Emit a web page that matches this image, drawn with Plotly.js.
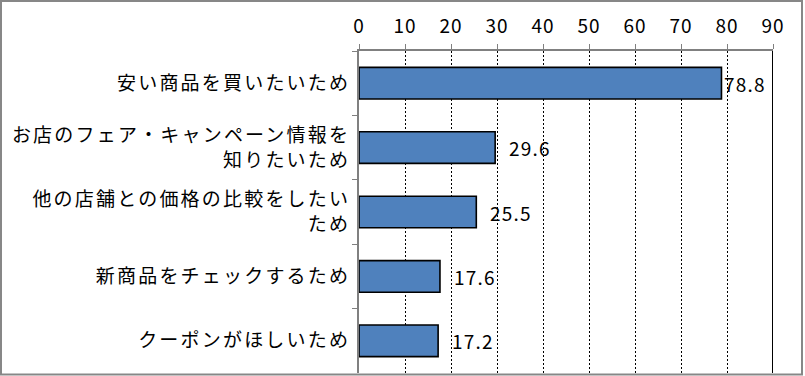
<!DOCTYPE html>
<html><head><meta charset="utf-8">
<script src="https://cdn.plot.ly/plotly-3.0.1.min.js"></script>
<style>html,body{margin:0;padding:0;background:#fff}#c{width:805px;height:376px}
.ytick text{letter-spacing:2.2px}
.xtick text{letter-spacing:1px}
.annotation-text{letter-spacing:1.2px}
</style>
</head><body><div id="c"></div>
<script>
const categories = [
  "安い商品を買いたいため",
  "お店のフェア・キャンペーン情報を<br>知りたいため",
  "他の店舗との価格の比較をしたい<br>ため",
  "新商品をチェックするため",
  "クーポンがほしいため"
];
const values = [78.8, 29.6, 25.5, 17.6, 17.2];
const labels = ["78.8", "29.6", "25.5", "17.6", "17.2"];
const tickVals = [0,10,20,30,40,50,60,70,80,90];

const W = 805, H = 376;
const m = {l: 359, r: 32, t: 51, b: 3};
const pw = W - m.l - m.r, ph = H - m.t - m.b;
const font = "'Noto Sans CJK JP', 'Noto Sans', sans-serif";
const shifts = [1, 12, 12, 12, 12];

const trace = {
  type: 'bar', orientation: 'h',
  y: categories, x: values,
  marker: {color: '#4F81BD', line: {color: '#000', width: 1.6}},
  width: 0.49,
  hoverinfo: 'none'
};

const annotations = values.map((v, i) => ({
  x: v, y: categories[i], xref: 'x', yref: 'y',
  text: labels[i], showarrow: false, xanchor: 'left', yanchor: 'middle',
  xshift: shifts[i], font: {family: font, size: 19, color: '#000'}
}));

const layout = {
  width: W, height: H,
  margin: m,
  paper_bgcolor: '#fff', plot_bgcolor: '#fff',
  showlegend: false,
  bargap: 0.5,
  xaxis: {
    side: 'top', range: [0, 90], tickvals: tickVals, ticktext: tickVals.map(String),
    showline: true, linecolor: '#808080', linewidth: 2,
    ticks: 'outside', ticklen: 5, tickcolor: '#808080', tickwidth: 1,
    showgrid: true, gridcolor: '#000', gridwidth: 1, griddash: '2px,2px',
    zeroline: false, ticklabelstandoff: 3,
    tickfont: {family: font, size: 19, color: '#000'}, fixedrange: true
  },
  yaxis: {
    autorange: 'reversed', type: 'category',
    showline: true, linecolor: '#808080', linewidth: 2,
    ticks: 'outside', ticklen: 5, tickcolor: '#808080', tickson: 'boundaries',
    showgrid: false, zeroline: false, ticklabelstandoff: 3,
    tickfont: {family: font, size: 19, color: '#000'}, fixedrange: true
  },
  annotations: annotations,
  shapes: [
    {type: 'line', xref: 'x', yref: 'paper', x0: 90, x1: 90, y0: 0, y1: 1,
     line: {color: '#000', width: 2}},
    {type: 'rect', xref: 'paper', yref: 'paper',
     x0: (1 - m.l) / pw, x1: (802 - m.l) / pw,
     y0: 1 - (374.5 - m.t) / ph, y1: 1 - (1 - m.t) / ph,
     line: {color: '#878787', width: 2}, fillcolor: 'rgba(0,0,0,0)'}
  ]
};

Plotly.newPlot('c', [trace], layout, {displayModeBar: false, staticPlot: true});
</script></body></html>
